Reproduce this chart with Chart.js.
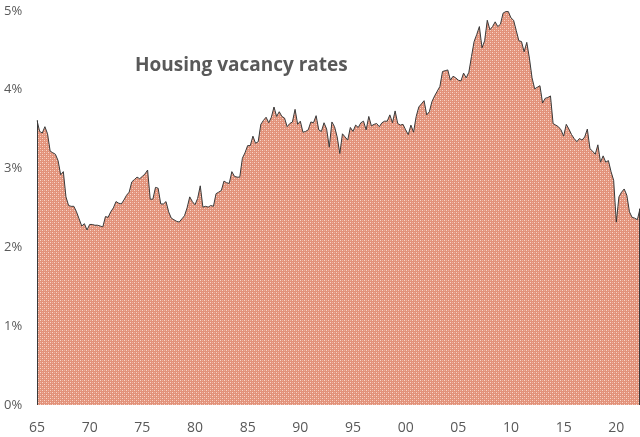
<!DOCTYPE html>
<html>
<head>
<meta charset="utf-8">
<script src="https://cdn.jsdelivr.net/npm/chart.js@4/dist/chart.umd.min.js"></script>
<style>
	html, body { margin: 0; padding: 0; background: #fff; }
	#chart { display: block; }
</style>
</head>
<body>
<canvas id="chart" width="640" height="437"></canvas>
<script>
// ================ Data (quarterly, %) ================
const START_YEAR = 1965;
const TICK_LABELS = ["65", "70", "75", "80", "85", "90", "95", "00", "05", "10", "15", "20"];

const rates1960s = [
	3.61, 3.47, 3.45, 3.53, 3.44, 3.22, 3.20, 3.18, 3.10, 2.92, 2.96, 2.64,
	2.53, 2.52, 2.52, 2.45, 2.36, 2.27, 2.30, 2.22,
];
const rates1970s = [
	2.29, 2.29, 2.28, 2.28, 2.27, 2.26, 2.39, 2.38, 2.45, 2.50, 2.58, 2.56,
	2.55, 2.60, 2.66, 2.70, 2.83, 2.86, 2.89, 2.87, 2.90, 2.93, 2.98, 2.61,
	2.61, 2.76, 2.75, 2.55, 2.55, 2.58, 2.45, 2.37, 2.35, 2.33, 2.32, 2.36,
	2.40, 2.50, 2.64, 2.58,
];
const rates1980s = [
	2.54, 2.62, 2.78, 2.51, 2.52, 2.51, 2.53, 2.52, 2.68, 2.70, 2.72, 2.84,
	2.82, 2.81, 2.96, 2.90, 2.89, 2.89, 3.13, 3.20, 3.29, 3.29, 3.41, 3.32,
	3.34, 3.56, 3.61, 3.65, 3.58, 3.65, 3.78, 3.66, 3.72, 3.66, 3.64, 3.53,
	3.57, 3.59, 3.75, 3.56,
];
const rates1990s = [
	3.60, 3.46, 3.47, 3.49, 3.59, 3.58, 3.67, 3.49, 3.47, 3.58, 3.50, 3.27,
	3.59, 3.53, 3.40, 3.19, 3.44, 3.40, 3.36, 3.52, 3.47, 3.55, 3.52, 3.58,
	3.60, 3.49, 3.66, 3.54, 3.56, 3.57, 3.53, 3.58, 3.60, 3.60, 3.68, 3.58,
	3.73, 3.57, 3.55, 3.56,
];
const rates2000s = [
	3.49, 3.43, 3.55, 3.46, 3.66, 3.78, 3.82, 3.86, 3.68, 3.72, 3.85, 3.92,
	3.98, 4.04, 4.23, 4.24, 4.25, 4.12, 4.17, 4.15, 4.12, 4.11, 4.21, 4.15,
	4.22, 4.42, 4.61, 4.70, 4.80, 4.53, 4.62, 4.88, 4.76, 4.80, 4.86, 4.80,
	4.83, 4.97, 4.99, 4.99,
];
const rates2010s = [
	4.91, 4.88, 4.75, 4.62, 4.61, 4.48, 4.60, 4.40, 4.15, 4.01, 4.03, 4.05,
	3.83, 3.89, 3.90, 3.92, 3.57, 3.55, 3.53, 3.49, 3.41, 3.56, 3.50, 3.43,
	3.38, 3.34, 3.38, 3.36, 3.40, 3.50, 3.25, 3.22, 3.18, 3.30, 3.08, 3.16,
	3.08, 3.10, 2.96, 2.85,
];
const rates2020s = [
	2.32, 2.64, 2.70, 2.74, 2.66, 2.45, 2.38, 2.37, 2.35, 2.49,
];

const vacancyRates = [].concat(rates1960s, rates1970s, rates1980s, rates1990s, rates2000s, rates2010s, rates2020s);
const quarterLabels = vacancyRates.map((_, i) => `${START_YEAR + Math.floor(i / 4)}Q${(i % 4) + 1}`);

const TEXT_COLOR = "#595959";
const LINE_COLOR = "#3a3a3a";

// ================ Hatched fill ================
function makePattern() {
	const c = document.createElement("canvas");
	c.width = 4;
	c.height = 4;
	const g = c.getContext("2d");
	g.fillStyle = "rgb(226, 146, 122)";
	g.fillRect(0, 0, 4, 4);
	g.fillStyle = "rgb(248, 214, 202)";
	g.fillRect(0, 0, 1, 1);
	g.fillRect(2, 2, 1, 1);
	g.fillStyle = "rgb(236, 176, 158)";
	g.fillRect(2, 0, 1, 1);
	g.fillRect(0, 2, 1, 1);
	return g.createPattern(c, "repeat");
}

// title inside the plot + vertical edges of the area
const overlayPlugin = {
	id: "overlay",
	afterDatasetsDraw(chart) {
		const { ctx, chartArea } = chart;
		const pts = chart.getDatasetMeta(0).data;
		const base = chart.scales.y.getPixelForValue(0);
		ctx.save();
		ctx.strokeStyle = LINE_COLOR;
		ctx.lineWidth = 1;
		ctx.beginPath();
		ctx.moveTo(Math.round(pts[0].x) + 0.5, pts[0].y);
		ctx.lineTo(Math.round(pts[0].x) + 0.5, base);
		const last = pts[pts.length - 1];
		ctx.moveTo(Math.round(last.x) - 0.5, last.y);
		ctx.lineTo(Math.round(last.x) - 0.5, base);
		ctx.stroke();

		ctx.fillStyle = TEXT_COLOR;
		ctx.font = "bold 19px 'Open Sans'";
		ctx.textBaseline = "middle";
		ctx.fillText("Housing vacancy rates", chartArea.left + 98, chartArea.top + 55);
		ctx.restore();
	},
};

// ================ Chart ================
const chart = new Chart(document.getElementById("chart"), {
	type: "line",
	data: {
		labels: quarterLabels,
		datasets: [
			{
				data: vacancyRates,
				borderColor: LINE_COLOR,
				borderWidth: 1,
				backgroundColor: makePattern(),
				fill: "origin",
				pointRadius: 0,
				tension: 0,
			},
		],
	},
	options: {
		responsive: false,
		devicePixelRatio: 1,
		animation: false,
		layout: {
			padding: { left: 4, right: 0, top: 9, bottom: 0 },
		},
		plugins: {
			legend: { display: false },
			tooltip: { enabled: false },
		},
		scales: {
			x: {
				offset: false,
				grid: { display: false },
				border: { display: false },
				afterFit: (scale) => {
					scale.height = 32;
				},
				ticks: {
					autoSkip: false,
					maxRotation: 0,
					padding: 7,
					color: TEXT_COLOR,
					font: { family: "'Open Sans'", size: 14 },
					callback: (v, i) => (i % 20 === 0 ? TICK_LABELS[i / 20] : null),
				},
			},
			y: {
				min: 0,
				max: 5,
				grid: { display: false },
				border: { display: false },
				afterFit: (scale) => {
					scale.width = 33;
				},
				ticks: {
					stepSize: 1,
					crossAlign: "far",
					color: TEXT_COLOR,
					font: { family: "'Open Sans'", size: 13 },
					callback: (v) => `${v}%`,
				},
			},
		},
	},
	plugins: [overlayPlugin],
});
</script>
</body>
</html>
